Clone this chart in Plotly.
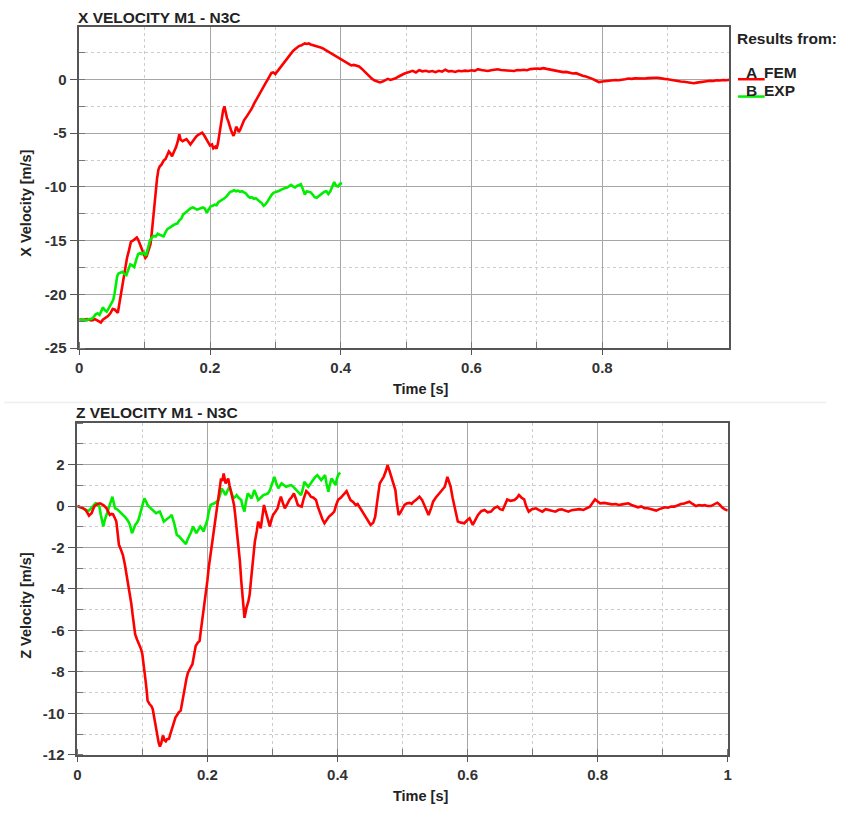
import plotly.graph_objects as go

# ---------------- data ----------------
# X velocity, FEM result (time [s], velocity [m/s])
x_fem_t = [0.000, 0.006, 0.012, 0.018, 0.024, 0.029, 0.033, 0.036, 0.040, 0.044, 0.048, 0.051, 0.054, 0.057, 0.059,
           0.062, 0.065, 0.067, 0.070, 0.073, 0.076, 0.079, 0.082, 0.085, 0.088, 0.090, 0.092, 0.095, 0.098, 0.101,
           0.103, 0.106, 0.109, 0.111, 0.113, 0.115, 0.117, 0.119, 0.121, 0.123, 0.126, 0.129, 0.132, 0.135, 0.137,
           0.139, 0.142, 0.145, 0.148, 0.151, 0.153, 0.155, 0.158, 0.161, 0.164, 0.167, 0.170, 0.173, 0.176, 0.179,
           0.182, 0.185, 0.188, 0.191, 0.194, 0.197, 0.200, 0.203, 0.205, 0.208, 0.210, 0.212, 0.214, 0.216, 0.218,
           0.220, 0.222, 0.224, 0.226, 0.228, 0.230, 0.232, 0.234, 0.236, 0.238, 0.240, 0.242, 0.244, 0.246, 0.249,
           0.252, 0.255, 0.258, 0.261, 0.264, 0.267, 0.270, 0.273, 0.276, 0.279, 0.282, 0.285, 0.288, 0.291, 0.294,
           0.297, 0.300, 0.303, 0.306, 0.309, 0.312, 0.315, 0.318, 0.321, 0.324, 0.327, 0.330, 0.333, 0.336, 0.339,
           0.342, 0.345, 0.348, 0.351, 0.354, 0.357, 0.360, 0.364, 0.368, 0.372, 0.376, 0.380, 0.384, 0.388, 0.392,
           0.396, 0.400, 0.404, 0.408, 0.412, 0.416, 0.420, 0.424, 0.428, 0.432, 0.436, 0.440, 0.444, 0.448, 0.452,
           0.456, 0.460, 0.464, 0.468, 0.472, 0.476, 0.480, 0.484, 0.488, 0.492, 0.496, 0.500, 0.505, 0.510, 0.515,
           0.520, 0.525, 0.530, 0.535, 0.540, 0.545, 0.550, 0.555, 0.560, 0.565, 0.570, 0.575, 0.580, 0.585, 0.590,
           0.595, 0.600, 0.605, 0.610, 0.615, 0.620, 0.625, 0.630, 0.635, 0.640, 0.645, 0.650, 0.655, 0.660, 0.665,
           0.670, 0.675, 0.680, 0.685, 0.690, 0.695, 0.700, 0.705, 0.710, 0.715, 0.720, 0.725, 0.730, 0.735, 0.740,
           0.745, 0.750, 0.755, 0.760, 0.765, 0.770, 0.775, 0.780, 0.785, 0.790, 0.795, 0.800, 0.805, 0.810, 0.815,
           0.820, 0.825, 0.830, 0.835, 0.840, 0.845, 0.850, 0.855, 0.860, 0.865, 0.870, 0.875, 0.880, 0.885, 0.890,
           0.895, 0.900, 0.905, 0.910, 0.915, 0.920, 0.925, 0.930, 0.935, 0.940, 0.945, 0.950, 0.955, 0.960, 0.965,
           0.970, 0.975, 0.980, 0.985, 0.990, 0.995]
x_fem_v = [-22.30, -22.35, -22.28, -22.40, -22.30, -22.45, -22.60, -22.35, -22.15, -22.00, -21.70, -21.35, -21.40,
           -21.55, -21.70, -20.60, -19.40, -18.70, -17.60, -16.60, -15.90, -15.10, -15.00, -14.80, -14.70, -14.90,
           -15.20, -15.80, -16.20, -16.60, -16.45, -15.90, -15.30, -14.20, -12.80, -11.60, -10.40, -9.20, -8.40,
           -8.10, -7.90, -7.55, -7.40, -6.90, -6.70, -6.85, -7.15, -6.70, -6.30, -5.70, -5.10, -5.60, -5.75, -5.65,
           -5.55, -5.80, -6.05, -5.80, -5.50, -5.30, -5.15, -5.05, -4.95, -5.20, -5.55, -5.95, -6.15, -6.05, -6.40,
           -6.25, -6.45, -6.00, -5.20, -4.10, -3.40, -2.90, -2.50, -3.10, -3.60, -3.90, -4.40, -4.70, -5.00, -5.25,
           -4.90, -4.40, -4.60, -4.90, -4.70, -4.20, -3.80, -3.55, -3.30, -2.95, -2.70, -2.30, -1.95, -1.60, -1.30,
           -0.95, -0.65, -0.35, -0.05, 0.30, 0.60, 0.65, 0.50, 0.75, 1.00, 1.20, 1.45, 1.65, 1.95, 2.15, 2.40, 2.65,
           2.80, 2.95, 3.10, 3.15, 3.25, 3.35, 3.30, 3.35, 3.25, 3.20, 3.20, 3.10, 3.00, 2.90, 2.75, 2.60, 2.45,
           2.30, 2.15, 2.05, 1.90, 1.75, 1.55, 1.40, 1.30, 1.35, 1.30, 1.20, 1.00, 0.75, 0.45, 0.20, 0.05, -0.10,
           -0.20, -0.28, -0.20, -0.05, 0.05, -0.05, 0.00, 0.10, 0.25, 0.40, 0.50, 0.60, 0.70, 0.80, 0.65, 0.85, 0.75,
           0.80, 0.72, 0.78, 0.68, 0.80, 0.72, 0.90, 0.75, 0.78, 0.70, 0.80, 0.76, 0.82, 0.78, 0.85, 0.80, 0.95,
           0.88, 0.82, 0.78, 0.85, 0.90, 0.95, 0.88, 0.85, 0.80, 0.82, 0.78, 0.88, 0.85, 0.90, 0.86, 0.96, 1.00,
           1.02, 0.98, 1.05, 0.98, 0.92, 0.85, 0.82, 0.72, 0.68, 0.70, 0.62, 0.55, 0.58, 0.45, 0.35, 0.28, 0.18,
           0.05, -0.10, -0.25, -0.20, -0.15, -0.12, -0.10, -0.05, -0.08, 0.00, 0.02, 0.08, 0.05, 0.10, 0.08, 0.12,
           0.08, 0.12, 0.10, 0.15, 0.16, 0.08, 0.05, 0.02, -0.05, -0.10, -0.15, -0.20, -0.22, -0.28, -0.30, -0.35,
           -0.30, -0.25, -0.20, -0.18, -0.12, -0.15, -0.08, -0.10, -0.05, -0.08, -0.03]

# X velocity, experiment
x_exp_t = [0.000, 0.005, 0.010, 0.015, 0.019, 0.022, 0.025, 0.028, 0.031, 0.034, 0.036, 0.039, 0.042, 0.045, 0.048,
           0.050, 0.052, 0.054, 0.056, 0.058, 0.060, 0.063, 0.066, 0.069, 0.072, 0.075, 0.078, 0.081, 0.084, 0.087,
           0.090, 0.093, 0.096, 0.099, 0.102, 0.105, 0.108, 0.111, 0.114, 0.117, 0.120, 0.123, 0.126, 0.129, 0.132,
           0.135, 0.138, 0.141, 0.144, 0.147, 0.150, 0.153, 0.156, 0.159, 0.162, 0.165, 0.168, 0.171, 0.174, 0.177,
           0.180, 0.183, 0.186, 0.189, 0.192, 0.195, 0.198, 0.201, 0.204, 0.207, 0.210, 0.213, 0.216, 0.219, 0.222,
           0.225, 0.228, 0.231, 0.234, 0.237, 0.240, 0.243, 0.246, 0.249, 0.252, 0.255, 0.258, 0.261, 0.264, 0.267,
           0.270, 0.273, 0.276, 0.279, 0.282, 0.285, 0.288, 0.291, 0.294, 0.297, 0.300, 0.303, 0.306, 0.309, 0.312,
           0.315, 0.318, 0.321, 0.324, 0.327, 0.330, 0.333, 0.336, 0.339, 0.342, 0.345, 0.348, 0.351, 0.354, 0.357,
           0.360, 0.363, 0.366, 0.369, 0.372, 0.375, 0.378, 0.381, 0.384, 0.387, 0.390, 0.393, 0.396, 0.399, 0.402]
x_exp_v = [-22.30, -22.35, -22.40, -22.30, -22.25, -22.10, -21.85, -21.75, -21.90, -21.50, -21.20, -21.45, -21.60,
           -21.30, -21.00, -20.80, -20.50, -19.90, -19.10, -18.30, -18.05, -17.95, -17.90, -18.10, -18.20, -17.70,
           -17.20, -17.30, -17.45, -16.80, -16.25, -16.15, -16.25, -16.10, -16.40, -15.70, -15.00, -14.70, -14.55,
           -14.60, -14.35, -14.45, -14.55, -14.60, -14.20, -13.90, -13.80, -13.65, -13.55, -13.45, -13.40, -13.10,
           -12.95, -12.55, -12.35, -12.25, -12.10, -11.95, -11.90, -12.00, -12.10, -12.05, -11.95, -11.90, -12.00,
           -12.40, -12.10, -11.80, -11.75, -11.65, -11.70, -11.40, -11.30, -11.20, -11.05, -10.90, -10.70, -10.45,
           -10.40, -10.30, -10.40, -10.35, -10.45, -10.40, -10.50, -10.60, -10.85, -11.00, -10.95, -11.10, -11.05,
           -11.20, -11.35, -11.50, -11.75, -11.60, -11.35, -11.00, -10.75, -10.55, -10.50, -10.40, -10.35, -10.25,
           -10.15, -10.10, -10.05, -9.90, -9.80, -9.95, -10.05, -9.90, -9.85, -9.75, -10.20, -10.70, -10.40, -10.45,
           -10.50, -10.70, -10.95, -11.00, -10.85, -10.70, -10.55, -10.45, -10.40, -10.65, -10.40, -9.90, -9.55,
           -9.90, -9.95, -9.70, -9.65]

# Z velocity, FEM result
z_fem_t = [0.000, 0.005, 0.009, 0.013, 0.016, 0.018, 0.020, 0.022, 0.025, 0.027, 0.031, 0.035, 0.038, 0.041, 0.045,
           0.048, 0.050, 0.053, 0.055, 0.058, 0.060, 0.062, 0.064, 0.067, 0.070, 0.073, 0.075, 0.078, 0.080, 0.083,
           0.085, 0.087, 0.089, 0.092, 0.095, 0.098, 0.100, 0.102, 0.105, 0.107, 0.108, 0.111, 0.114, 0.116, 0.118,
           0.120, 0.122, 0.123, 0.125, 0.127, 0.129, 0.131, 0.132, 0.134, 0.136, 0.138, 0.141, 0.143, 0.146, 0.148,
           0.151, 0.153, 0.156, 0.159, 0.161, 0.163, 0.166, 0.168, 0.170, 0.172, 0.174, 0.177, 0.179, 0.182, 0.185,
           0.188, 0.190, 0.192, 0.195, 0.197, 0.200, 0.202, 0.205, 0.207, 0.210, 0.212, 0.215, 0.217, 0.219, 0.221,
           0.223, 0.225, 0.227, 0.228, 0.230, 0.232, 0.234, 0.236, 0.239, 0.241, 0.243, 0.245, 0.248, 0.250, 0.252,
           0.254, 0.256, 0.257, 0.259, 0.260, 0.263, 0.265, 0.267, 0.269, 0.271, 0.273, 0.276, 0.278, 0.280, 0.282,
           0.285, 0.287, 0.289, 0.291, 0.293, 0.296, 0.298, 0.301, 0.304, 0.308, 0.310, 0.313, 0.316, 0.319, 0.322,
           0.326, 0.330, 0.333, 0.336, 0.339, 0.342, 0.345, 0.348, 0.352, 0.356, 0.359, 0.363, 0.367, 0.370, 0.374,
           0.377, 0.380, 0.384, 0.387, 0.391, 0.395, 0.398, 0.401, 0.405, 0.409, 0.414, 0.417, 0.420, 0.424, 0.428,
           0.431, 0.435, 0.438, 0.441, 0.444, 0.448, 0.451, 0.455, 0.458, 0.461, 0.465, 0.468, 0.471, 0.474, 0.477,
           0.480, 0.484, 0.486, 0.489, 0.491, 0.494, 0.497, 0.499, 0.503, 0.507, 0.511, 0.514, 0.517, 0.521, 0.526,
           0.530, 0.535, 0.540, 0.544, 0.547, 0.551, 0.557, 0.561, 0.565, 0.569, 0.571, 0.574, 0.577, 0.580, 0.583,
           0.585, 0.590, 0.595, 0.599, 0.603, 0.608, 0.612, 0.616, 0.621, 0.626, 0.631, 0.636, 0.641, 0.646, 0.650,
           0.654, 0.658, 0.661, 0.666, 0.672, 0.676, 0.679, 0.683, 0.687, 0.690, 0.694, 0.699, 0.705, 0.710, 0.715,
           0.720, 0.725, 0.730, 0.735, 0.740, 0.745, 0.750, 0.755, 0.760, 0.766, 0.772, 0.778, 0.784, 0.788, 0.792,
           0.796, 0.800, 0.804, 0.810, 0.816, 0.822, 0.828, 0.832, 0.838, 0.843, 0.847, 0.852, 0.857, 0.862, 0.867,
           0.872, 0.877, 0.882, 0.886, 0.890, 0.895, 0.899, 0.903, 0.908, 0.913, 0.918, 0.923, 0.928, 0.933, 0.937,
           0.941, 0.946, 0.951, 0.956, 0.961, 0.964, 0.969, 0.974, 0.979, 0.984, 0.988, 0.991, 0.995, 1.000]
z_fem_v = [0.00, -0.05, -0.11, -0.20, -0.35, -0.46, -0.40, -0.35, -0.10, 0.02, 0.10, 0.13, 0.08, 0.02, -0.11,
           -0.35, -0.43, -0.38, -0.40, -0.60, -0.75, -1.30, -1.87, -2.10, -2.35, -2.80, -3.15, -3.70, -4.11, -4.70,
           -5.23, -5.80, -6.19, -6.45, -6.67, -6.90, -7.15, -7.80, -8.43, -9.00, -9.39, -9.55, -9.65, -9.80, -10.20,
           -10.51, -10.90, -11.15, -11.40, -11.60, -11.45, -11.15, -11.07, -11.30, -11.35, -11.25, -11.23, -11.00,
           -10.67, -10.45, -10.19, -10.10, -9.95, -9.87, -9.50, -9.10, -8.75, -8.30, -8.05, -7.95, -7.80, -7.63,
           -7.20, -6.75, -6.60, -6.51, -6.00, -5.55, -4.90, -4.27, -3.60, -2.99, -2.30, -1.71, -1.10, -0.59, 0.00,
           0.53, 0.95, 1.33, 1.20, 1.57, 1.25, 1.09, 1.20, 1.33, 1.00, 0.69, 0.35, 0.05, -0.50, -1.07, -1.90, -2.67,
           -3.60, -4.43, -5.10, -5.39, -5.10, -4.91, -4.60, -4.27, -3.60, -2.99, -2.30, -1.71, -1.20, -0.75, -0.90,
           -1.07, -0.40, 0.05, -0.20, -0.43, -0.70, -0.99, -0.70, -0.43, -0.30, -0.11, 0.15, 0.45, 0.15, -0.11, 0.05,
           0.29, 0.45, 0.61, 0.35, 0.05, 0.00, -0.03, 0.35, 0.72, 0.60, 0.45, 0.40, 0.29, -0.05, -0.43, -0.65, -0.83,
           -0.65, -0.51, -0.40, -0.27, 0.05, 0.30, 0.40, 0.55, 0.72, 0.50, 0.29, 0.20, 0.05, 0.10, -0.10, -0.30,
           -0.43, -0.60, -0.80, -0.91, -0.80, -0.51, 0.20, 1.09, 1.25, 1.41, 1.65, 1.97, 1.70, 1.33, 1.10, 0.77,
           0.20, -0.43, -0.30, -0.19, 0.05, 0.13, 0.15, 0.10, 0.21, 0.30, 0.45, 0.30, -0.11, -0.43, -0.10, 0.21,
           0.40, 0.61, 0.75, 0.93, 1.41, 1.20, 0.93, 0.40, -0.03, -0.50, -0.75, -0.80, -0.83, -0.70, -0.59, -0.91,
           -0.65, -0.43, -0.25, -0.19, -0.30, -0.27, -0.10, -0.03, -0.15, -0.19, 0.10, 0.32, 0.25, 0.29, 0.40, 0.53,
           0.40, 0.32, 0.00, -0.27, -0.15, -0.11, -0.20, -0.27, -0.15, -0.19, -0.25, -0.27, -0.18, -0.16, -0.22,
           -0.27, -0.20, -0.19, -0.15, -0.19, -0.08, -0.03, 0.15, 0.32, 0.22, 0.13, 0.15, 0.10, 0.08, 0.10, 0.05,
           0.08, 0.12, 0.13, 0.05, 0.00, -0.06, -0.02, -0.10, -0.11, -0.15, -0.18, -0.22, -0.15, -0.10, -0.06,
           -0.08, -0.02, -0.03, 0.05, 0.10, 0.12, 0.18, 0.21, 0.10, 0.00, 0.05, 0.02, 0.05, 0.00, 0.00, 0.08, 0.16,
           0.05, -0.06, -0.15, -0.22]

# Z velocity, experiment
z_exp_t = [0.000, 0.005, 0.009, 0.013, 0.017, 0.020, 0.022, 0.025, 0.028, 0.031, 0.034, 0.036, 0.038, 0.040, 0.042,
           0.045, 0.047, 0.050, 0.052, 0.054, 0.056, 0.058, 0.061, 0.065, 0.068, 0.071, 0.074, 0.077, 0.080, 0.082,
           0.084, 0.087, 0.089, 0.092, 0.094, 0.096, 0.098, 0.100, 0.103, 0.106, 0.108, 0.111, 0.115, 0.118, 0.121,
           0.124, 0.127, 0.130, 0.133, 0.137, 0.140, 0.143, 0.145, 0.147, 0.149, 0.151, 0.153, 0.156, 0.159, 0.162,
           0.164, 0.167, 0.169, 0.172, 0.175, 0.178, 0.180, 0.183, 0.186, 0.189, 0.192, 0.194, 0.197, 0.200, 0.202,
           0.205, 0.208, 0.211, 0.214, 0.217, 0.220, 0.222, 0.225, 0.228, 0.231, 0.234, 0.237, 0.240, 0.243, 0.245,
           0.248, 0.252, 0.254, 0.257, 0.259, 0.262, 0.265, 0.268, 0.270, 0.272, 0.275, 0.278, 0.282, 0.286, 0.290,
           0.293, 0.296, 0.298, 0.300, 0.303, 0.306, 0.309, 0.311, 0.314, 0.318, 0.321, 0.325, 0.329, 0.333, 0.337,
           0.340, 0.344, 0.347, 0.349, 0.352, 0.355, 0.359, 0.362, 0.365, 0.369, 0.372, 0.375, 0.378, 0.381, 0.383,
           0.386, 0.388, 0.391, 0.394, 0.397, 0.399, 0.401, 0.404]
z_exp_v = [0.00, -0.05, -0.11, -0.18, -0.24, -0.15, -0.08, 0.05, 0.13, 0.10, -0.03, -0.40, -0.80, -0.99, -0.70,
           -0.43, -0.20, 0.05, 0.25, 0.45, 0.15, -0.11, -0.15, -0.27, -0.35, -0.43, -0.55, -0.67, -0.83, -1.05,
           -1.31, -1.10, -0.91, -0.80, -0.67, -0.45, -0.19, 0.10, 0.37, 0.20, 0.05, -0.05, -0.19, -0.28, -0.35,
           -0.30, -0.27, -0.50, -0.75, -0.65, -0.59, -0.50, -0.43, -0.60, -0.83, -1.10, -1.39, -1.45, -1.55, -1.65,
           -1.75, -1.84, -1.65, -1.47, -1.25, -0.99, -1.15, -1.31, -1.15, -0.99, -1.10, -1.23, -0.95, -0.67, -0.30,
           0.05, 0.10, 0.13, 0.20, 0.29, 0.60, 0.85, 0.70, 0.53, 0.75, 0.93, 0.65, 0.37, 0.45, 0.53, 0.40, 0.29,
           0.00, -0.27, 0.15, 0.61, 0.50, 0.37, 0.55, 0.77, 0.55, 0.29, 0.40, 0.53, 0.57, 0.61, 0.75, 0.93, 1.20,
           1.41, 1.10, 0.85, 0.95, 1.09, 1.00, 0.93, 0.98, 1.01, 0.90, 0.77, 0.65, 0.53, 0.85, 1.17, 1.05, 0.93,
           1.10, 1.25, 1.37, 1.49, 1.37, 1.25, 1.37, 1.49, 1.10, 0.69, 1.00, 1.33, 1.17, 1.01, 1.30, 1.49, 1.62]

# tick labels
x_top_ticks = [0, 0.2, 0.4, 0.6, 0.8]
x_bot_ticks = [0, 0.2, 0.4, 0.6, 0.8, 1]
y_top_ticks = [-25, -20, -15, -10, -5, 0]
y_bot_ticks = [-12, -10, -8, -6, -4, -2, 0, 2]

# ---------------- styling ----------------
FONT = "Arial, 'Liberation Sans', sans-serif"
TXT = "#222222"
RED = "#ff0000"
GREEN = "#00ee00"
W, H = 842, 815


def px_x(p):
    return p / W


def px_y(p):
    return 1 - p / H


def fmt(vals):
    # plain ASCII hyphen for negatives
    return [f"{v:g}" for v in vals]


def axis_style(**kw):
    base = dict(
        showline=True, linecolor="#555555", linewidth=1.5, mirror=True,
        ticks="outside", ticklen=5, tickcolor="#555555", tickwidth=1.2,
        showgrid=True, gridcolor="#a6a6a6", gridwidth=1, zeroline=False,
        tickfont=dict(family=FONT, size=15, color="#333333", weight="bold"),
        fixedrange=True,
    )
    base.update(kw)
    return base


def minor_style(step):
    return dict(dtick=step, tick0=0, showgrid=True, gridcolor="#cccccc", griddash="dot",
                ticks="inside", ticklen=6, tickcolor="#777777")


fig = go.Figure()

fig.add_trace(go.Scatter(x=x_fem_t, y=x_fem_v, mode="lines", name="A FEM",
                         line=dict(color=RED, width=2.6), xaxis="x", yaxis="y", showlegend=False))
fig.add_trace(go.Scatter(x=x_exp_t, y=x_exp_v, mode="lines", name="B EXP",
                         line=dict(color=GREEN, width=2.6), xaxis="x", yaxis="y", showlegend=False))
fig.add_trace(go.Scatter(x=z_exp_t, y=z_exp_v, mode="lines", name="B EXP",
                         line=dict(color=GREEN, width=2.6), xaxis="x2", yaxis="y2", showlegend=False))
fig.add_trace(go.Scatter(x=z_fem_t, y=z_fem_v, mode="lines", name="A FEM",
                         line=dict(color=RED, width=2.6), xaxis="x2", yaxis="y2", showlegend=False))

fig.update_layout(
    width=W, height=H,
    margin=dict(l=0, r=0, t=0, b=0),
    paper_bgcolor="white", plot_bgcolor="white",
    showlegend=False,
    xaxis=axis_style(domain=[px_x(76), px_x(732)], range=[0, 0.994], anchor="y",
                     tickmode="array", tickvals=x_top_ticks, ticktext=fmt(x_top_ticks),
                     minor=minor_style(0.1)),
    yaxis=axis_style(domain=[px_y(351.7), px_y(27)], range=[-25, 4.9], anchor="x",
                     tickmode="array", tickvals=y_top_ticks, ticktext=fmt(y_top_ticks), ticklen=8,
                     minor=minor_style(2.5)),
    xaxis2=axis_style(domain=[px_x(74), px_x(730.7)], range=[0, 1], anchor="y2",
                      tickmode="array", tickvals=x_bot_ticks, ticktext=fmt(x_bot_ticks),
                      minor=minor_style(0.1)),
    yaxis2=axis_style(domain=[px_y(762.3), px_y(427.3)], range=[-12, 4], anchor="x2",
                      tickmode="array", tickvals=y_bot_ticks, ticktext=fmt(y_bot_ticks), ticklen=8,
                      minor=minor_style(1)),
)

annotations = []


def label(text, x, y, size=14, xanchor="center", angle=0):
    annotations.append(dict(text=text, x=x, y=y, xref="paper", yref="paper",
                            xanchor=xanchor, yanchor="middle", showarrow=False, textangle=angle,
                            font=dict(family=FONT, size=size, color=TXT, weight="bold")))


# panel titles
label("X VELOCITY M1 - N3C", px_x(73), px_y(17.5), size=15.5, xanchor="left")
label("Z VELOCITY M1 - N3C", px_x(71), px_y(416.5), size=15.5, xanchor="left")
# axis titles
label("Time [s]", px_x(421), px_y(393), size=14.5)
label("Time [s]", px_x(421), px_y(804), size=14.5)
label("X Velocity [m/s]", px_x(22), px_y(205), size=14.5, angle=-90)
label("Z Velocity [m/s]", px_x(22), px_y(611), size=14.5, angle=-90)
# legend block
label("Results from:", px_x(738), px_y(39), size=15.5, xanchor="left")
label("A", px_x(755), px_y(73.5), size=15.5)
label("FEM", px_x(765), px_y(73.5), size=15.5, xanchor="left")
label("B", px_x(755), px_y(91.5), size=15.5)
label("EXP", px_x(765), px_y(91.5), size=15.5, xanchor="left")

fig.update_layout(annotations=annotations)

shapes = [
    dict(type="line", xref="paper", yref="paper", x0=px_x(741), x1=px_x(768), y0=px_y(80), y1=px_y(80),
         line=dict(color=RED, width=2.5)),
    dict(type="line", xref="paper", yref="paper", x0=px_x(741), x1=px_x(768), y0=px_y(97.5), y1=px_y(97.5),
         line=dict(color=GREEN, width=2.5)),
    dict(type="line", xref="paper", yref="paper", x0=0, x1=px_x(830), y0=px_y(406.5), y1=px_y(406.5),
         line=dict(color="#eeeeee", width=1.5)),
]
fig.update_layout(shapes=shapes)

fig.write_html("out.html")
